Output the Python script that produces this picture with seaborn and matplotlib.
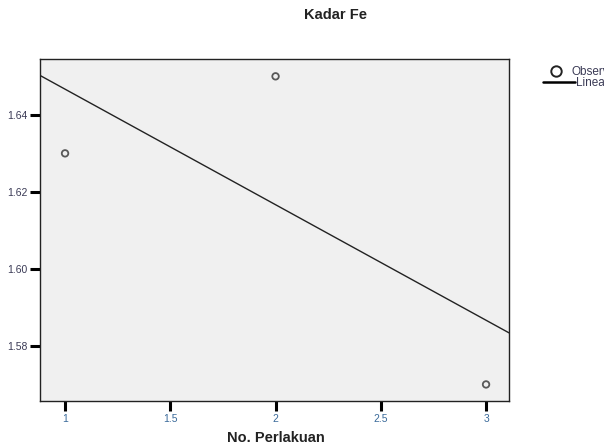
import numpy as np
import pandas as pd
import seaborn as sns
import matplotlib
matplotlib.use("Agg")
import matplotlib.pyplot as plt
from matplotlib.lines import Line2D

# Data
perlakuan = [1, 2, 3]
kadar_fe = [1.63, 1.65, 1.57]
x_ticks = [1, 1.5, 2, 2.5, 3]
x_tick_labels = ["1", "1.5", "2", "2.5", "3"]
y_ticks = [1.58, 1.60, 1.62, 1.64]
y_tick_labels = ["1.58", "1.60", "1.62", "1.64"]
legend_labels = ["Observed", "Linear"]

df = pd.DataFrame({"No. Perlakuan": perlakuan, "Kadar Fe": kadar_fe})

sns.set_theme(style="white")
plt.rcParams["font.family"] = ["Liberation Sans", "DejaVu Sans"]

fig = plt.figure(figsize=(6.04, 4.48), dpi=100)
W, H = 604, 448
ax = fig.add_axes([40 / W, (H - 401) / H, 469 / W, 342 / H])
ax.set_facecolor("#f0f0f0")
ax.set_xlim(0.881, 3.109)
ax.set_ylim(1.5657, 1.6545)

sns.regplot(data=df, x="No. Perlakuan", y="Kadar Fe", ci=None, truncate=False, ax=ax,
            scatter_kws=dict(s=22, facecolors="none", edgecolors="#333333", linewidths=1.3),
            line_kws=dict(color="#222222", linewidth=1.0))
ax.set_xlim(0.881, 3.109)
ax.set_ylim(1.5657, 1.6545)

for s in ax.spines.values():
    s.set_color("#222222")
    s.set_linewidth(1.0)

ax.set_xticks(x_ticks)
ax.set_xticklabels(x_tick_labels, fontsize=7.5, color="#3a6a9a")
ax.set_yticks(y_ticks)
ax.set_yticklabels(y_tick_labels, fontsize=7.5, color="#3a3a55")
ax.tick_params(axis="both", direction="out", length=7, width=2.2, color="black", pad=2,
               bottom=True, left=True)
ax.set_xlabel("")
ax.set_ylabel("")

fig.text(276 / W, 1 - 438 / H, "No. Perlakuan", ha="center", va="center",
         fontsize=10.5, fontweight="bold", color="#222222")
fig.text(336 / W, 1 - 15 / H, "Kadar Fe", ha="center", va="center",
         fontsize=10.5, fontweight="bold", color="#222222")

fs = 8.5
fpx = fs * 100 / 72
h_obs = Line2D([], [], marker="o", linestyle="none", markerfacecolor="none",
               markeredgecolor="#222222", markersize=7.5, markeredgewidth=1.4)
h_lin = Line2D([], [], color="black", linewidth=1.8)
leg1 = fig.legend([h_obs], [legend_labels[0]], loc="center left",
                  bbox_to_anchor=(543 / W, 1 - 72 / H), frameon=False, fontsize=fs,
                  handlelength=26 / fpx, handletextpad=2 / fpx, borderaxespad=0,
                  borderpad=0, labelcolor="#3a3a55")
leg2 = fig.legend([h_lin], [legend_labels[1]], loc="center left",
                  bbox_to_anchor=(543 / W, 1 - 83 / H), frameon=False, fontsize=fs,
                  handlelength=32 / fpx, handletextpad=1 / fpx, borderaxespad=0,
                  borderpad=0, labelcolor="#3a3a55")

fig.savefig("out.png", dpi=100)
